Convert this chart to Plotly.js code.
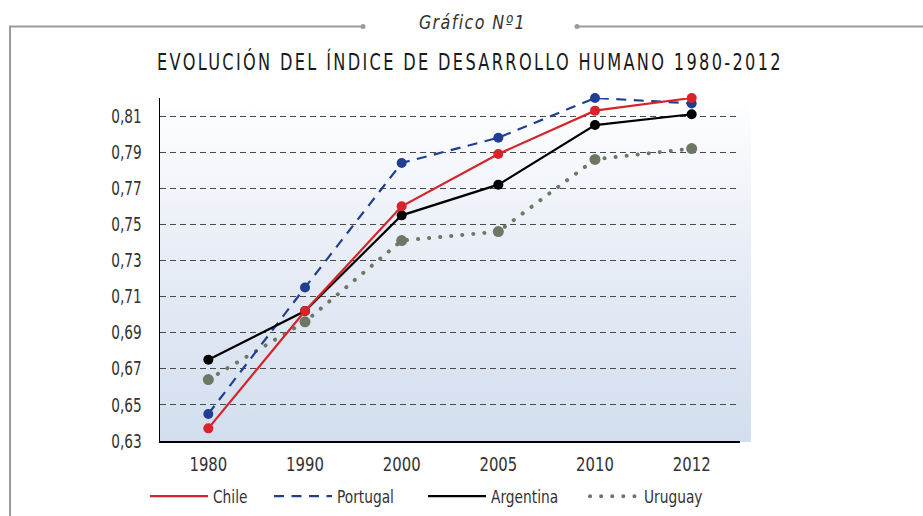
<!DOCTYPE html>
<html>
<head>
<meta charset="utf-8">
<script src="https://cdn.plot.ly/plotly-3.0.1.min.js"></script>
<style>
  html, body { margin: 0; padding: 0; background: #ffffff; }
  #wrap { position: relative; width: 923px; height: 516px; }
  #bg { position: absolute; left: 160px; top: 96px; width: 591px; height: 346px;
        background: linear-gradient(to bottom, #ffffff 0%, #e8edf6 45%, #d2deee 100%); }
  #chart { position: absolute; left: 0; top: 0; width: 923px; height: 516px; }
</style>
</head>
<body>
<div id="wrap">
  <div id="bg"></div>
  <div id="chart"></div>
</div>
<script>
const years = ['1980', '1990', '2000', '2005', '2010', '2012'];
const chile = [0.637, 0.702, 0.760, 0.789, 0.813, 0.820];
const portugal = [0.645, 0.715, 0.784, 0.798, 0.820, 0.817];
const argentina = [0.675, 0.702, 0.755, 0.772, 0.805, 0.811];
const uruguay = [0.664, 0.696, 0.741, 0.746, 0.786, 0.792];
const seriesNames = ['Chile', 'Portugal', 'Argentina', 'Uruguay'];
const yTicks = [0.63, 0.65, 0.67, 0.69, 0.71, 0.73, 0.75, 0.77, 0.79, 0.81];
const chartTitle = 'EVOLUCIÓN DEL ÍNDICE DE DESARROLLO HUMANO 1980-2012';
const chartLabel = 'Gráfico Nº1';

const FONT = '"DejaVu Sans Condensed", "DejaVu Sans", sans-serif';
const URU = '#6d7864';

// pixel -> paper helpers for decoration
const L = 160, R = 740, T = 98, B = 441;
const px = v => (v - L) / (R - L);
const py = v => (B - v) / (B - T);

const series = [
  {name: seriesNames[3], y: uruguay, color: URU, dash: '0.1px,11px', width: 4, msize: 11, legend: 'legend4'},
  {name: seriesNames[1], y: portugal, color: '#213f92', dash: '10px,7.5px', width: 2.2, msize: 10, legend: 'legend2'},
  {name: seriesNames[2], y: argentina, color: '#000000', dash: 'solid', width: 2.2, msize: 10, legend: 'legend3'},
  {name: seriesNames[0], y: chile, color: '#d8232a', dash: 'solid', width: 2.2, msize: 10, legend: 'legend'}
];

const traces = [];
series.forEach(s => {
  traces.push({
    type: 'scatter', mode: 'lines', x: years, y: s.y, name: s.name,
    legend: s.legend, cliponaxis: false,
    line: {color: s.color, width: s.width, dash: s.dash},
    hoverinfo: 'skip'
  });
  traces.push({
    type: 'scatter', mode: 'markers', x: years, y: s.y, name: s.name,
    showlegend: false, cliponaxis: false,
    marker: {color: s.color, size: s.msize, line: {width: 0}}
  });
});

const frameColor = '#9b9b9b';
const shapes = [
  {type: 'line', xref: 'paper', yref: 'paper', x0: px(10), x1: px(10), y0: py(26.5), y1: py(520), line: {color: frameColor, width: 2}},
  {type: 'line', xref: 'paper', yref: 'paper', x0: px(9), x1: px(363), y0: py(26.5), y1: py(26.5), line: {color: frameColor, width: 2}},
  {type: 'line', xref: 'paper', yref: 'paper', x0: px(577), x1: px(926), y0: py(26.5), y1: py(26.5), line: {color: frameColor, width: 2}},
  {type: 'circle', xref: 'paper', yref: 'paper', xsizemode: 'pixel', ysizemode: 'pixel', xanchor: px(363), yanchor: py(26.5), x0: -2.5, x1: 2.5, y0: -2.5, y1: 2.5, fillcolor: frameColor, line: {width: 0}},
  {type: 'circle', xref: 'paper', yref: 'paper', xsizemode: 'pixel', ysizemode: 'pixel', xanchor: px(577), yanchor: py(26.5), x0: -2.5, x1: 2.5, y0: -2.5, y1: 2.5, fillcolor: frameColor, line: {width: 0}}
];

const legFont = {family: FONT, size: 18, color: '#333333'};
const legBase = {orientation: 'h', xanchor: 'left', yanchor: 'top', y: py(478),
                 font: legFont, bgcolor: 'rgba(0,0,0,0)', itemwidth: 58};

const layout = {
  width: 923, height: 516,
  margin: {l: L, r: 923 - R, t: T, b: 516 - B, pad: 0, autoexpand: false},
  paper_bgcolor: 'rgba(0,0,0,0)',
  plot_bgcolor: 'rgba(0,0,0,0)',
  separators: ',.',
  font: {family: FONT, size: 19, color: '#333333'},
  title: {
    text: chartTitle,
    font: {family: FONT, size: 23, color: '#1a1a1a'},
    xref: 'container', yref: 'container',
    x: 470 / 923, y: 1 - 62 / 516, xanchor: 'center', yanchor: 'middle'
  },
  xaxis: {
    type: 'category', range: [-0.5, 5.5],
    showgrid: false, zeroline: false,
    showline: true, linecolor: '#000000', linewidth: 1.5,
    ticks: 'outside', ticklen: 6, tickcolor: 'rgba(0,0,0,0)',
    tickfont: {family: FONT, size: 19, color: '#333333'},
    fixedrange: true
  },
  yaxis: {
    range: [0.63, 0.82],
    tickvals: yTicks, tickformat: '.2f',
    showgrid: true, gridcolor: '#4a4a4a', gridwidth: 1, griddash: '6px,4px',
    zeroline: false,
    showline: true, linecolor: '#000000', linewidth: 1.5,
    ticks: 'outside', ticklen: 13, tickcolor: 'rgba(0,0,0,0)',
    tickfont: {family: FONT, size: 19, color: '#333333'},
    fixedrange: true
  },
  legend: Object.assign({}, legBase, {x: px(145)}),
  legend2: Object.assign({}, legBase, {x: px(269)}),
  legend3: Object.assign({}, legBase, {x: px(423)}),
  legend4: Object.assign({}, legBase, {x: px(585), itemwidth: 49}),
  annotations: [
    {text: '<i>' + chartLabel + '</i>', xref: 'paper', yref: 'paper', x: px(472), y: py(22),
     xanchor: 'center', yanchor: 'middle', showarrow: false,
     font: {family: FONT, size: 19, color: '#333333'}}
  ],
  shapes: shapes,
  showlegend: true
};

function textWidth(t) {
  let w = 0;
  try { w = t.getComputedTextLength(); } catch (e) { w = 0; }
  if (!w) { try { w = t.getBBox().width; } catch (e) { w = 0; } }
  return w;
}

function finish(gd) {
  const squeezeEl = (t, f) => {
    if (t.getAttribute('lengthAdjust')) return;
    const len = textWidth(t);
    if (!len) return;
    t.setAttribute('textLength', (len * f).toFixed(2));
    t.setAttribute('lengthAdjust', 'spacingAndGlyphs');
  };
  gd.querySelectorAll('.xtick text').forEach(t => squeezeEl(t, 0.87));
  gd.querySelectorAll('.ytick text').forEach(t => squeezeEl(t, 0.8));
  document.querySelectorAll('text').forEach(t => {
    if (seriesNames.indexOf((t.textContent || '').trim()) >= 0) squeezeEl(t, 0.85);
  });
  const t = gd.querySelector('.gtitle');
  if (t && !t.getAttribute('lengthAdjust')) {
    t.style.letterSpacing = '3px';
    t.setAttribute('textLength', '626');
    t.setAttribute('lengthAdjust', 'spacingAndGlyphs');
  }
  const a = gd.querySelector('.annotation-text');
  if (a && !a.getAttribute('lengthAdjust')) {
    a.style.letterSpacing = '1.5px';
    a.setAttribute('textLength', '107');
    a.setAttribute('lengthAdjust', 'spacingAndGlyphs');
  }
  gd.querySelectorAll('path').forEach(p => {
    const s = p.style.stroke || '';
    if (s.replace(/\s/g, '') === 'rgb(109,120,100)' && p.style.strokeLinecap !== 'round') p.style.strokeLinecap = 'round';
  });
}

const gdEl = document.getElementById('chart');
Plotly.newPlot(gdEl, traces, layout, {displayModeBar: false, staticPlot: true}).then(gd => {
  finish(gd);
  let n = 0;
  const tick = () => { finish(gd); if (++n < 120) requestAnimationFrame(tick); };
  requestAnimationFrame(tick);
});
</script>
</body>
</html>
